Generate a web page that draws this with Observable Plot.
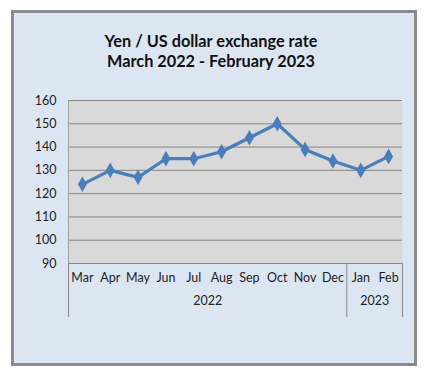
<!DOCTYPE html>
<html>
<head>
<meta charset="utf-8">
<script src="https://cdn.jsdelivr.net/npm/d3@7"></script>
<script src="https://cdn.jsdelivr.net/npm/@observablehq/plot@0.6"></script>
<style>
  html, body { margin: 0; padding: 0; background: #fff; }
  #wrap { position: relative; width: 433px; height: 375px; overflow: hidden; font-family: Lato, "Open Sans", sans-serif; }
  #frame { position: absolute; left: 11px; top: 10px; width: 400px; height: 350px; background: #dce6f2; border: 3px solid #8a8a8a; }
  #title { position: absolute; left: 0; top: 31px; width: 422px; text-align: center; font-weight: bold; font-size: 16.3px; line-height: 20px; color: #111; }
  #chart { position: absolute; left: 0; top: 0; }
</style>
</head>
<body>
<div id="wrap">
  <div id="frame"></div>
  <div id="title">Yen / US dollar exchange rate<br>March 2022 - February 2023</div>
  <div id="chart"></div>
</div>
<script>
const months = ["Mar","Apr","May","Jun","Jul","Aug","Sep","Oct","Nov","Dec","Jan","Feb"];
const rates  = [124, 130, 127, 135, 135, 138, 144, 150, 139, 134, 130, 136];
const years  = ["2022", "2023"];
const yearMonthCounts = [10, 2];
const yTicks = [90, 100, 110, 120, 130, 140, 150, 160];

const data = months.map((m, i) => ({i: i + 0.5, month: m, rate: rates[i]}));
let start = 0;
const groups = years.map((y, k) => {
  const g = {year: y, start, end: start + yearMonthCounts[k]};
  start = g.end;
  return g;
});
const separators = [0, ...groups.map(g => g.end)];
const yMin = yTicks[0];

const chart = Plot.plot({
  width: 433,
  height: 375,
  marginLeft: 68,
  marginRight: 31,
  marginTop: 100,
  marginBottom: 112,
  style: {background: "transparent", fontFamily: "Lato, 'Open Sans', sans-serif", color: "#222"},
  x: {domain: [0, months.length], axis: null},
  y: {domain: [90, 160], axis: null},
  marks: [
    Plot.frame({fill: "#d9d9d9", stroke: null}),
    Plot.gridY(yTicks, {stroke: "#858585", strokeOpacity: 1, strokeWidth: 1}),
    Plot.ruleX([0], {stroke: "#a0a0a0", strokeWidth: 1}),
    Plot.axisY(yTicks, {tickSize: 0, tickPadding: 12, fontSize: 12.5, fill: "#222", label: null}),
    Plot.ruleX(separators, {y1: yMin, y2: yMin, stroke: "#8a8a8a", strokeWidth: 1, insetBottom: -54}),
    Plot.text(data, {x: "i", text: "month", frameAnchor: "bottom", dy: 18, fontSize: 12.5, fill: "#222"}),
    Plot.text(groups, {x: d => (d.start + d.end) / 2, text: "year", frameAnchor: "bottom", dy: 41, fontSize: 12.5, fill: "#222"}),
    Plot.line(data, {x: "i", y: "rate", stroke: "#4a7ebb", strokeWidth: 3.2, strokeLinejoin: "round"}),
    Plot.dot(data, {x: "i", y: "rate", symbol: "diamond", r: 3.8, fill: "#4a7ebb", stroke: "#4a7ebb"})
  ]
});
document.getElementById("chart").appendChild(chart);
</script>
</body>
</html>
